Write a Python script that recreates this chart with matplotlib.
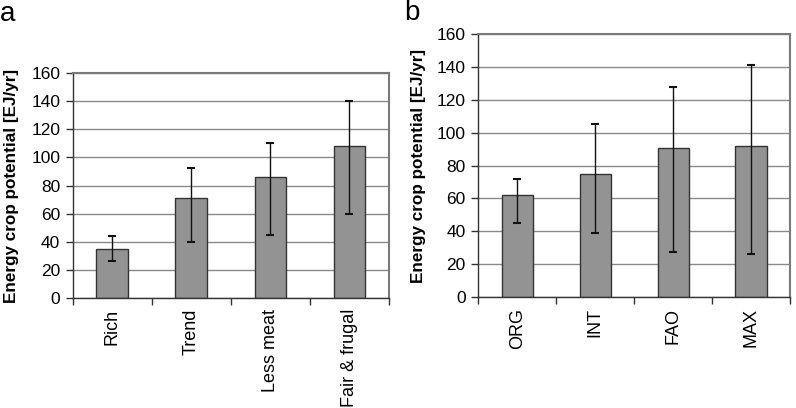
import matplotlib
matplotlib.use("Agg")
import matplotlib.pyplot as plt
import numpy as np

plt.rcParams['font.family'] = ['Liberation Sans', 'DejaVu Sans']

cats_a = ["Rich", "Trend", "Less meat", "Fair & frugal"]
vals_a = [35, 71, 86, 108]
upper_a = [44, 92.5, 110, 140.5]
lower_a = [26, 40, 45, 60]

cats_b = ["ORG", "INT", "FAO", "MAX"]
vals_b = [62, 75, 91, 92]
upper_b = [72, 105.5, 128, 141]
lower_b = [45, 39, 27.5, 26]

yticks = [0, 20, 40, 60, 80, 100, 120, 140, 160]

W, H = 796, 408
fig = plt.figure(figsize=(W / 100, H / 100), dpi=100)


def panel(rect, cats, vals, upper, lower, letter, letter_xy, lpad):
    l, t, r, b = rect
    ax = fig.add_axes([l / W, 1 - b / H, (r - l) / W, (b - t) / H])
    x = np.arange(len(cats))
    v = np.array(vals, dtype=float)
    yerr = np.vstack([v - np.array(lower), np.array(upper) - v])
    ax.set_axisbelow(True)
    ax.yaxis.grid(True, color='#8a8a8a', lw=1.0)
    ax.bar(x, v, width=0.4, color='#939393', edgecolor='#333333', lw=1.0, zorder=2)
    ax.errorbar(x, v, yerr=yerr, fmt='none', ecolor='#111111', elinewidth=1.0,
                capsize=2.6, capthick=1.5, zorder=3)
    ax.set_xlim(-0.5, len(cats) - 0.5)
    ax.set_ylim(0, 160)
    ax.set_yticks(yticks)
    ax.set_xticks(np.arange(len(cats) + 1) - 0.5)
    ax.set_xticklabels([])
    ax.set_xticks(x, minor=True)
    ax.set_xticklabels(cats, minor=True, rotation=90, fontsize=13)
    ax.tick_params(axis='x', which='minor', length=0, pad=8)
    ax.tick_params(axis='x', which='major', length=5, width=1, color='#333333', direction='out')
    ax.tick_params(axis='y', length=5, width=1, color='#333333', labelsize=12.5, pad=4)
    for s in ['top', 'right']:
        ax.spines[s].set_color('#7a7a7a')
        ax.spines[s].set_linewidth(1.5)
    for s in ['left', 'bottom']:
        ax.spines[s].set_color('#333333')
        ax.spines[s].set_linewidth(1.0)
    ax.set_ylabel("Energy crop potential [EJ/yr]", fontsize=12.3, fontweight='bold', labelpad=lpad)
    fig.text(letter_xy[0] / W, 1 - letter_xy[1] / H, letter, fontsize=20, ha='left', va='baseline')
    return ax


panel((72.7, 73.3, 389, 297.7), cats_a, vals_a, upper_a, lower_a, 'a', (0, 21), 9)
panel((478.3, 34.3, 790, 297), cats_b, vals_b, upper_b, lower_b, 'b', (404, 20), 7.5)

fig.savefig("out.png", dpi=100)
